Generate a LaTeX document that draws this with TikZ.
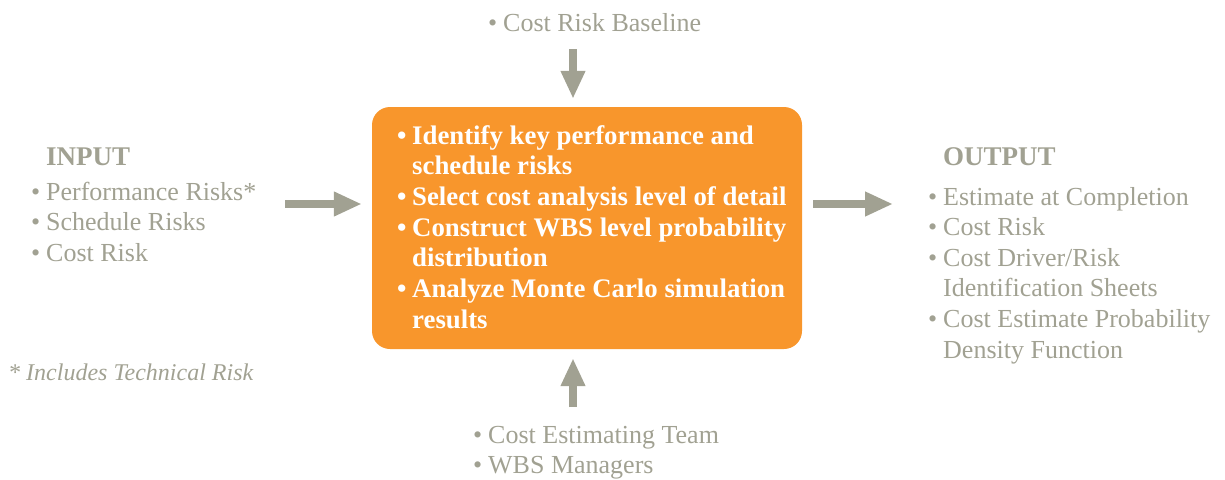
\documentclass[tikz,border=0pt]{standalone}
\usepackage{fontspec}
\setmainfont{Liberation Serif}
\usetikzlibrary{arrows.meta,positioning}

\definecolor{riskgray}{RGB}{161,161,146}
\definecolor{riskorange}{RGB}{248,150,44}
\newcommand{\itm}{\makebox[15pt][l]{\textbullet}}
\newcommand{\cnt}{\hspace*{15pt}}

\tikzset{
  block/.style={anchor=base west, inner sep=0pt, text=riskgray, font=\fontsize{26}{30.6}\selectfont},
  stepbox/.style={draw=none, fill=riskorange, rounded corners=18pt, minimum width=430pt, minimum height=242pt},
  fatarrow/.style={draw=riskgray, line width=8pt, -{Triangle[length=28pt,width=23pt]}},
}

\begin{document}
\begin{tikzpicture}[x=1pt,y=-1pt]
\useasboundingbox (0,0) rectangle (1225,479);

\node [stepbox] (analysis) at (587,228) {};
\node [block, text=white, font=\fontsize{26.8}{30.7}\selectfont\bfseries] (steps) at (397,144)
  {\begin{tabular}[t]{@{}l@{}}
   \itm Identify key performance and\\
   \cnt schedule risks\\
   \itm Select cost analysis level of detail\\
   \itm Construct WBS level probability\\
   \cnt distribution\\
   \itm Analyze Monte Carlo simulation\\
   \cnt results
   \end{tabular}};

\node [block] (inputs) at (31,165)
  {\begin{tabular}[t]{@{}l@{}}
   \cnt{\fontsize{27}{30.6}\selectfont\bfseries INPUT}\\[4.5pt]
   \itm Performance Risks*\\
   \itm Schedule Risks\\
   \itm Cost Risk
   \end{tabular}};
\node [block, font=\fontsize{24}{30.6}\selectfont\itshape] (note) at (8,380) {* Includes Technical Risk};

\node [block] (outputs) at (928,165)
  {\begin{tabular}[t]{@{}l@{}}
   \cnt{\fontsize{27}{30.6}\selectfont\bfseries OUTPUT}\\[9.5pt]
   \itm Estimate at Completion\\
   \itm Cost Risk\\
   \itm Cost Driver/Risk\\
   \cnt Identification Sheets\\
   \itm Cost Estimate Probability\\
   \cnt Density Function
   \end{tabular}};

\node [block] (baseline) at (488,31)
  {\begin{tabular}[t]{@{}l@{}}\itm Cost Risk Baseline\end{tabular}};
\node [block] (team) at (473,443)
  {\begin{tabular}[t]{@{}l@{}}
   \itm Cost Estimating Team\\
   \itm WBS Managers
   \end{tabular}};

% arrows into and out of the box
\coordinate (inTail) at (285,204);
\coordinate (outHead) at (893,204);
\coordinate (topTail) at (573,49);
\coordinate (botTail) at (573,407);

\draw [fatarrow] (inTail) -- ([xshift=-10pt]inTail -| analysis.west);
\draw [fatarrow] ([xshift=11pt]analysis.east |- outHead) -- (outHead);
\draw [fatarrow] (topTail) -- ([yshift=8pt]topTail |- analysis.north);
\draw [fatarrow] (botTail) -- ([yshift=-9pt]botTail |- analysis.south);

\end{tikzpicture}
\end{document}
